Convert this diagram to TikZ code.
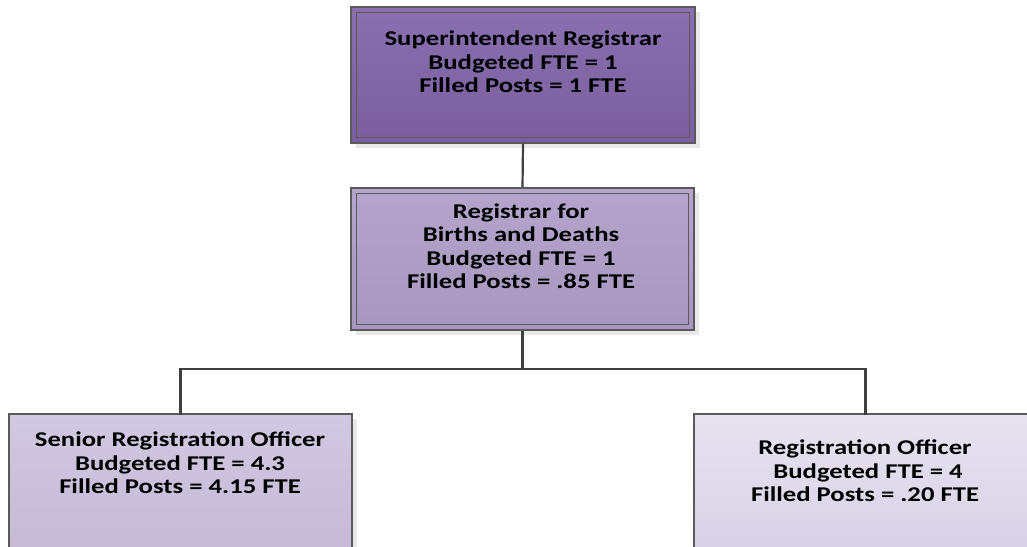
\documentclass[tikz,border=0pt]{standalone}
\usepackage{fontspec}
\setmainfont{Carlito}
\usetikzlibrary{shadows}
\definecolor{topA}{HTML}{8A70B0}
\definecolor{topB}{HTML}{7A5E9E}
\definecolor{midA}{HTML}{B5A5CC}
\definecolor{midB}{HTML}{A797BF}
\definecolor{lowA}{HTML}{D1C8E1}
\definecolor{lowB}{HTML}{C5B9D6}
\definecolor{rgtA}{HTML}{E7E3F0}
\definecolor{rgtB}{HTML}{D8D0E6}
\definecolor{edge}{HTML}{5A5A5A}
\definecolor{conn}{HTML}{404040}
\tikzset{
  box/.style={draw=edge, line width=1.2pt, inner sep=0pt, rectangle,
    general shadow={shadow xshift=5pt, shadow yshift=-5pt, fill=black!9}},
  lbl/.style={align=center, font=\bfseries\fontsize{21}{23.5}\selectfont, inner sep=0pt, xscale=1.27},
  conline/.style={draw=conn, line width=2.2pt}
}
\begin{document}
\begin{tikzpicture}[x=1pt,y=-1pt]
\useasboundingbox (0,0) rectangle (1027,546);
\clip (0,0) rectangle (1027,546);
\fill[white] (0,0) rectangle (1027,546);
\node[box, minimum width=344pt, minimum height=136pt, top color=topA, bottom color=topB] (sup) at (523,75) {};
\node[box, minimum width=343pt, minimum height=142pt, top color=midA, bottom color=midB] (reg) at (522.5,259) {};
\node[box, minimum width=343pt, minimum height=146pt, top color=lowA, bottom color=lowB] (sro) at (180.5,487) {};
\node[box, minimum width=343pt, minimum height=146pt, top color=rgtA, bottom color=rgtB] (ro) at (865.5,487) {};
\coordinate (jn) at (522.5,369);
\draw[conline] (sup.south) -- (reg.north);
\draw[conline] (reg.south) -- (jn);
\draw[conline, line cap=rect] (sro.north) |- (jn) -| (ro.north);
% inner borders
\draw[edge, line width=1.2pt] ([shift={(6,6)}]sup.north west) rectangle ([shift={(-6,-6)}]sup.south east);
\draw[edge, line width=1.2pt] ([shift={(6,6)}]reg.north west) rectangle ([shift={(-6,-6)}]reg.south east);
% labels
\node[lbl] (tsup) at (523,62) {Superintendent Registrar\\Budgeted FTE = 1\\Filled Posts = 1 FTE};
\node[lbl] (treg) at (521,246) {Registrar for\\Births and Deaths\\Budgeted FTE = 1\\Filled Posts = .85 FTE};
\node[lbl] (tsro) at (180,463) {Senior Registration Officer\\Budgeted FTE = 4.3\\Filled Posts = 4.15 FTE};
\node[lbl] (tro) at (865,471) {Registration Officer\\\ Budgeted FTE = 4\\Filled Posts = .20 FTE};
\end{tikzpicture}
\end{document}
